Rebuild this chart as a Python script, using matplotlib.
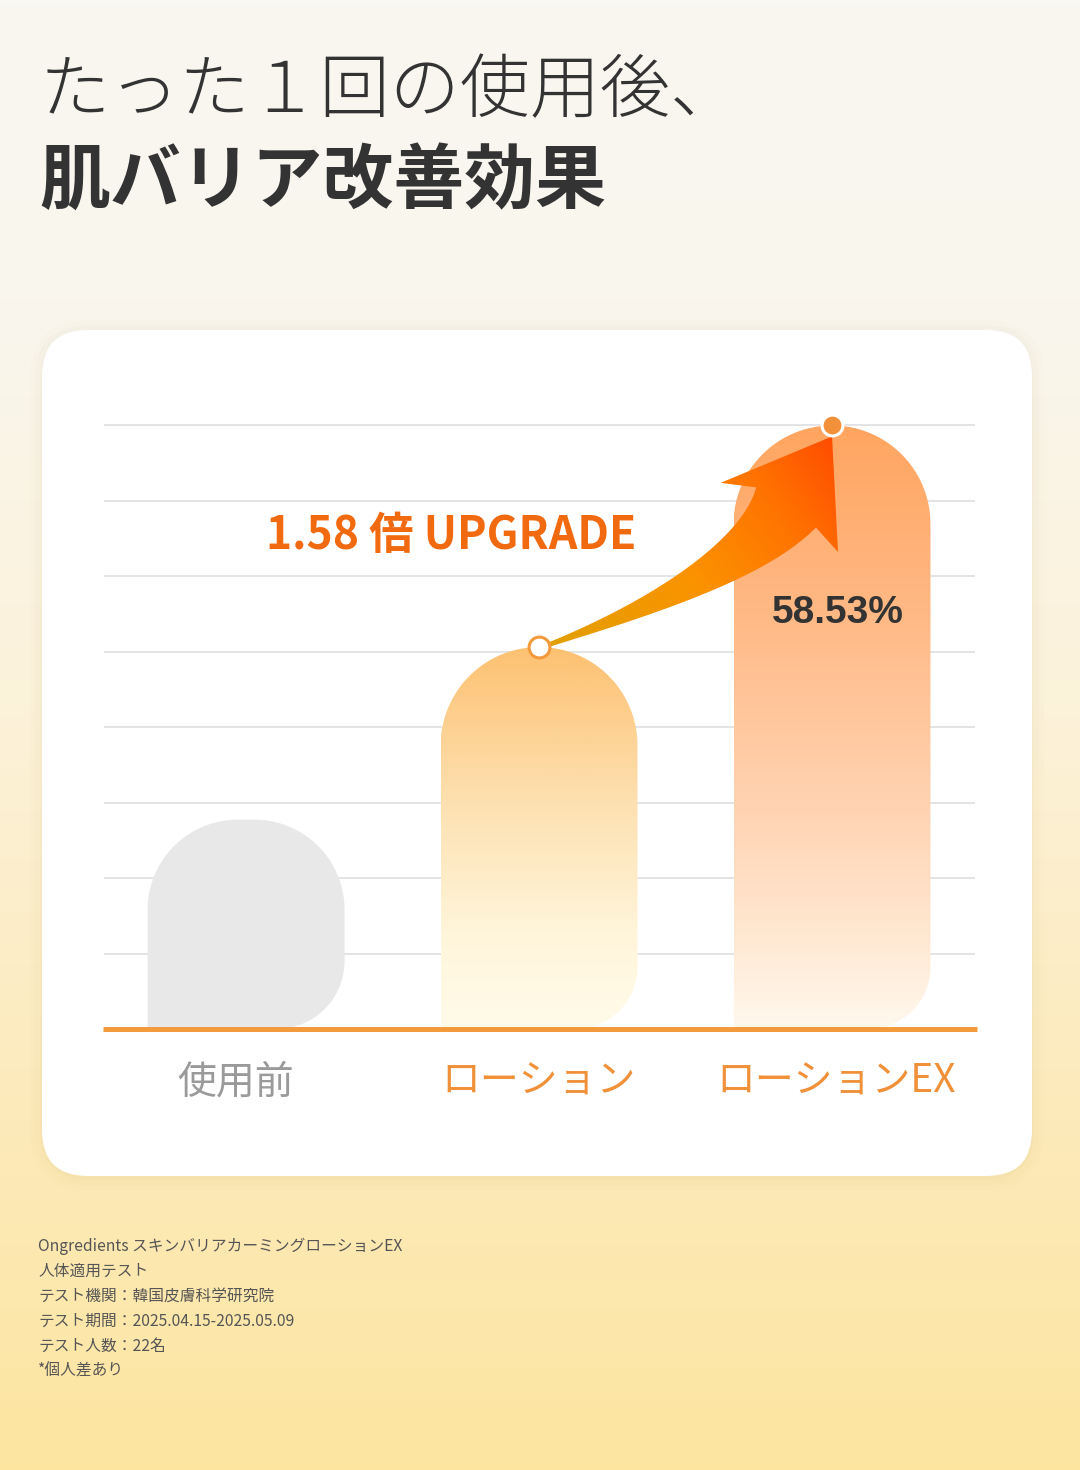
import numpy as np
import matplotlib
matplotlib.use("Agg")
import matplotlib.pyplot as plt
from matplotlib.patches import FancyBboxPatch, Polygon
from matplotlib.colors import LinearSegmentedColormap

plt.rcParams['font.family'] = ['Noto Sans CJK JP', 'DejaVu Sans']

# data
categories = ["使用前", "ローション", "ローションEX"]
values = [20.3, 37.04, 58.53]
label_colors = ["#9a9a9a", "#f0913a", "#f0913a"]
title_1 = "たった１回の使用後、"
title_2 = "肌バリア改善効果"
footnotes = [
    "Ongredients スキンバリアカーミングローションEX",
    "人体適用テスト",
    "テスト機関：韓国皮膚科学研究院",
    "テスト期間：2025.04.15-2025.05.09",
    "テスト人数：22名",
    "*個人差あり",
]

W, H = 1080, 1470
fig = plt.figure(figsize=(W / 100, H / 100), dpi=100)

# background gradient + card (pixel coordinates, y down)
bg = fig.add_axes([0, 0, 1, 1], zorder=0)
bg.set_xlim(0, W)
bg.set_ylim(H, 0)
bg.axis("off")
bg_cmap = LinearSegmentedColormap.from_list(
    "bg", [(0, "#f9f7f1"), (0.2, "#f9f6ee"), (0.48, "#fcf2da"), (0.8, "#fce9b6"), (1, "#fde5a0")])
bg.imshow(np.linspace(0, 1, 256)[:, None], extent=[0, W, H, 0], cmap=bg_cmap, aspect="auto")
for i, a in enumerate([0.025, 0.02, 0.015]):
    g = 4 + i * 5
    bg.add_patch(FancyBboxPatch((42 - g + 2, 330 - g + 4), 990 + 2 * g - 4, 846 + 2 * g - 4,
                                boxstyle="round,pad=0,rounding_size=%d" % (46 + g),
                                fc="#b08a30", ec="none", alpha=a))
bg.add_patch(FancyBboxPatch((42, 330), 990, 846, boxstyle="round,pad=0,rounding_size=46",
                            fc="white", ec="none"))

fig.text(40 / W, 1 - 93 / H, title_1, fontsize=50.5, color="#333333", fontweight="light",
         va="center", ha="left")
fig.text(39 / W, 1 - 182 / H, title_2, fontsize=51, color="#333333", fontweight="bold",
         va="center", ha="left")
for i, line in enumerate(footnotes):
    fig.text(38 / W, 1 - (1246 + 25 * i) / H, line, fontsize=11.3, color="#555555",
             va="center", ha="left")

# chart axes
ax_top, ax_bot, ax_l, ax_r = 400, 1029, 104, 975
ax = fig.add_axes([ax_l / W, 1 - ax_bot / H, (ax_r - ax_l) / W, (ax_bot - ax_top) / H], zorder=2)
ax.patch.set_alpha(0)
ax.set_xlim(-0.485, 2.488)
ax.set_ylim(0, 61)
for s in ax.spines.values():
    s.set_visible(False)
ax.set_yticks([])
ax.set_xticks([])
grid_step = values[2] / 8
for k in range(1, 9):
    ax.axhline(k * grid_step, color="#e4e4e4", lw=1.4, zorder=0)
ax.plot([-0.49, 2.495], [0, 0], color="#f39a3c", lw=3.6, zorder=5, clip_on=False,
        solid_capstyle="butt")

# category labels under the baseline
label_shift = [-11, 0, 4]
for i, (name, c, dx) in enumerate(zip(categories, label_colors, label_shift)):
    ax.annotate(name, (i, 0), xytext=(dx, -53), textcoords="offset pixels",
                ha="center", va="center", fontsize=28, color=c, annotation_clip=False)

to_disp = ax.transData
inv = ax.transData.inverted()


def d2p(x, y):
    dx, dy = to_disp.transform((x, y))
    return dx, H - dy


def p2d(pts):
    pts = np.asarray(pts, float)
    disp = np.column_stack([pts[:, 0], H - pts[:, 1]])
    return inv.transform(disp)


def arc(cx, cy, r, a0, a1, n=40):
    t = np.radians(np.linspace(a0, a1, n))
    return np.column_stack([cx + r * np.cos(t), cy - r * np.sin(t)])


def bar_shape(xc, val, width, r_top, r_br):
    xl, yb = d2p(xc - width / 2, 0)
    xr, yt = d2p(xc + width / 2, val)
    pts = [[xl, yb]]
    pts += arc(xl + r_top, yt + r_top, r_top, 180, 90).tolist()
    pts += arc(xr - r_top, yt + r_top, r_top, 90, 0).tolist()
    pts += arc(xr - r_br, yb - r_br, r_br, 0, -90).tolist()
    return p2d(pts), (xl, xr, yt, yb)


bw = 0.672
# gray bar
pts, _ = bar_shape(0, values[0], bw, 90, 68)
ax.add_patch(Polygon(pts, closed=True, fc="#e8e8e8", ec="none", zorder=2))

grads = [
    [(0, "#fdc172"), (0.4, "#fde0b0"), (0.75, "#fff5da"), (1, "#fffbea")],
    [(0, "#ffa560"), (0.3, "#ffb884"), (0.62, "#ffd2b0"), (0.85, "#ffe8d2"), (1, "#fff8ee")],
]
for i in (1, 2):
    pts, (xl, xr, yt, yb) = bar_shape(i, values[i], bw, 98.5, 62)
    poly = Polygon(pts, closed=True, fc="none", ec="none", zorder=2)
    ax.add_patch(poly)
    cm = LinearSegmentedColormap.from_list("g%d" % i, grads[i - 1])
    im = ax.imshow(np.linspace(0, 1, 256)[:, None], cmap=cm, aspect="auto",
                   extent=[i - bw / 2, i + bw / 2, 0, values[i]], zorder=2, origin="upper")
    im.set_clip_path(poly)

# curved arrow from lotion top to EX top
sx, sy = d2p(1, values[1])
ex, ey = d2p(2, values[2])
P0 = np.array([sx + 3, sy])
P2 = np.array([ex - 46, ey + 82])
P1 = np.array([ex - 93, ey + 152])
tt = np.linspace(0, 1, 80)
curve = ((1 - tt) ** 2)[:, None] * P0 + (2 * (1 - tt) * tt)[:, None] * P1 + (tt ** 2)[:, None] * P2
deriv = (2 * (1 - tt))[:, None] * (P1 - P0) + (2 * tt)[:, None] * (P2 - P1)
tang = deriv / np.linalg.norm(deriv, axis=1)[:, None]
norm = np.column_stack([tang[:, 1], -tang[:, 0]])
half = (2 + 34 * tt ** 1.25)[:, None]
upper = curve - norm * half
lower = curve + norm * half
tdir = tang[-1]
ndir = norm[-1]
tip = np.array([ex, ey + 11])
barb_a = P2 - ndir * 68 - tdir * 8
barb_b = P2 + ndir * 68 - tdir * 16
arrow_px = np.vstack([lower, barb_b[None], tip[None], barb_a[None], upper[::-1]])
arrow_poly = Polygon(p2d(arrow_px), closed=True, fc="none", ec="none", zorder=6)
ax.add_patch(arrow_poly)
x0, y0 = arrow_px.min(axis=0) - 5
x1, y1 = arrow_px.max(axis=0) + 5
gx, gy = np.meshgrid(np.linspace(x0, x1, 300), np.linspace(y0, y1, 300))
dvec = np.array([tip[0] - P0[0], tip[1] - P0[1]])
proj = ((gx - P0[0]) * dvec[0] + (gy - P0[1]) * dvec[1]) / (dvec @ dvec)
arrow_cmap = LinearSegmentedColormap.from_list(
    "arr", [(0, "#e0a000"), (0.45, "#fb9300"), (0.75, "#ff7400"), (1, "#ff4d00")])
lo = p2d([[x0, y1]])[0]
hi = p2d([[x1, y0]])[0]
aim = ax.imshow(np.clip(proj, 0, 1), cmap=arrow_cmap, vmin=0, vmax=1, aspect="auto",
                extent=[lo[0], hi[0], lo[1], hi[1]], origin="upper", zorder=6)
aim.set_clip_path(arrow_poly)
ax.set_xlim(-0.485, 2.488)
ax.set_ylim(0, 61)

ax.plot([1], [values[1]], "o", ms=15, mfc="white", mec="#f39a3c", mew=2.2, zorder=8, clip_on=False)
ax.plot([2], [values[2]], "o", ms=15, mfc="#f3913a", mec="white", mew=2.2, zorder=8, clip_on=False)

ax.annotate("%.2f%%" % values[2], (2, values[2]), xytext=(6, -188), textcoords="offset pixels",
            ha="center", va="center", fontsize=28, fontweight="bold", color="#333333",
            family=["Liberation Sans", "DejaVu Sans"], zorder=9)

ratio = values[2] / values[1]
fig.text(451 / W, 1 - 536 / H, "%.2f 倍 UPGRADE" % ratio, fontsize=32, fontweight="bold",
         color="#f26a10", ha="center", va="center", zorder=10)

fig.savefig("out.png", dpi=100)
